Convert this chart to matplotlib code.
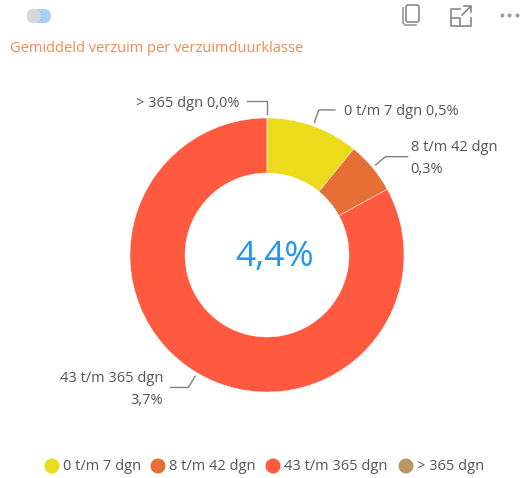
import numpy as np
import matplotlib
matplotlib.use('Agg')
import matplotlib.pyplot as plt
from matplotlib.patches import Circle, FancyBboxPatch

klassen = ['0 t/m 7 dgn', '8 t/m 42 dgn', '43 t/m 365 dgn', '> 365 dgn']
waarden = [0.48, 0.27, 3.65, 0.0]
labels = ['0 t/m 7 dgn 0,5%', '8 t/m 42 dgn\n0,3%', '43 t/m 365 dgn\n3,7%', '> 365 dgn 0,0%']
kleuren = ['#EBDB1A', '#E56F35', '#FF5A40', '#B99664']
totaal = '4,4%'
titel = 'Gemiddeld verzuim per verzuimduurklasse'

plt.rcParams['font.family'] = ['Open Sans', 'DejaVu Sans']
W, H = 521, 478
GRIJS = '#555555'

fig = plt.figure(figsize=(W / 100, H / 100), dpi=100)
ax = fig.add_axes([0, 0, 1, 1])

# donut, y-as staat omgekeerd dus de hoeken lopen zelf met de klok mee
cx, cy, R = 267, 255, 137
wedges, _ = ax.pie(waarden, colors=kleuren, startangle=-90, counterclock=True,
                   center=(cx, cy), radius=R, frame=True,
                   wedgeprops=dict(width=R - 82, edgecolor='#ffffff', linewidth=0.3))
ax.set_xlim(0, W)
ax.set_ylim(H, 0)
ax.set_aspect('equal')
ax.axis('off')

ax.text(cx + 8, cy + 2, totaal, color='#2196F3', fontsize=25.5, ha='center', va='center')
ax.text(10, 48, titel, color='#F58B4C', fontsize=10.5, ha='left', va='center')

# labels met geknikte hulplijnen
richting = [1, 1, -1, -1]
staart = [16, 22, 18, 20]
tekst_afstand = [9, 3, 7, 7]
hoeken = np.cumsum([0] + waarden) / sum(waarden) * 360
for i, lab in enumerate(labels):
    mid = np.radians((hoeken[i] + hoeken[i + 1]) / 2)
    if waarden[i] == 0:
        mid = 0.0
    x1, y1 = cx + (R + 4) * np.sin(mid), cy - (R + 4) * np.cos(mid)
    x2, y2 = cx + (R + 17) * np.sin(mid), cy - (R + 17) * np.cos(mid)
    x3 = x2 + richting[i] * staart[i]
    ax.plot([x1, x2, x3], [y1, y2, y2], color='#808080', lw=1.0)
    tx = x3 + richting[i] * tekst_afstand[i]
    ha = 'left' if richting[i] > 0 else 'right'
    ax.text(tx, y2 + 2, lab, color=GRIJS, fontsize=10.5, ha=ha, va='center', linespacing=1.6)

# legenda
legenda_x = [52, 158, 273, 406]
for x, naam, kleur in zip(legenda_x, klassen, kleuren):
    ax.add_patch(Circle((x, 466), 7.5, color=kleur, lw=0))
    ax.text(x + 11, 466, naam, color=GRIJS, fontsize=10.5, ha='left', va='center')

# knoppen bovenaan
ax.add_patch(FancyBboxPatch((27, 9), 24, 14, boxstyle='round,pad=0,rounding_size=7',
                            fc='#A5CFF5', ec='none'))
ax.add_patch(Circle((34, 16), 7, color='#D8D8D8', lw=0))

ax.add_patch(FancyBboxPatch((406, 5), 13, 17, boxstyle='round,pad=0,rounding_size=2',
                            fc='#ffffff', ec='#888888', lw=1.2))
ax.plot([403, 403, 405, 416], [8, 23, 25, 25], color='#999999', lw=1.2)
ax.plot([460, 451, 451, 471, 471], [9, 9, 26, 26, 18], color='#888888', lw=1.2)
ax.plot([451, 460, 460], [18, 18, 26], color='#888888', lw=1.2)
ax.plot([462, 470], [15, 7], color='#888888', lw=1.2)
ax.plot([464, 471, 471], [6, 6, 12], color='#888888', lw=1.2)
ax.scatter([502, 509, 517], [15, 15, 15], s=8, color='#999999', lw=0)

fig.savefig('out.png', dpi=100, facecolor='white')
